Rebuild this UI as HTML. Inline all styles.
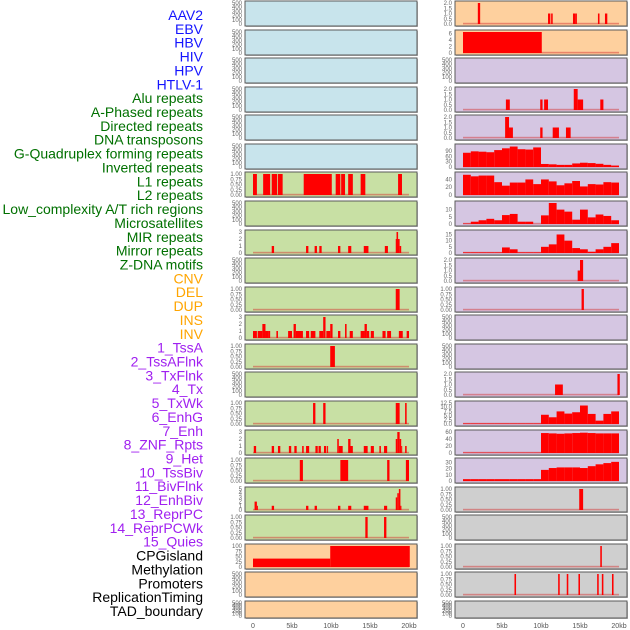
<!DOCTYPE html>
<html><head><meta charset="utf-8">
<style>
html,body{margin:0;padding:0;background:#fff;width:630px;height:630px;overflow:hidden}
svg{display:block;font-family:"Liberation Sans",sans-serif}
</style></head>
<body>
<svg id="chart" width="630" height="630" viewBox="0 0 630 630"></svg>
<script>
// ---- data ----
const trackLabels = ["AAV2","EBV","HBV","HIV","HPV","HTLV-1","Alu repeats","A-Phased repeats","Directed repeats","DNA transposons","G-Quadruplex forming repeats","Inverted repeats","L1 repeats","L2 repeats","Low_complexity A/T rich regions","Microsatellites","MIR repeats","Mirror repeats","Z-DNA motifs","CNV","DEL","DUP","INS","INV","1_TssA","2_TssAFlnk","3_TxFlnk","4_Tx","5_TxWk","6_EnhG","7_Enh","8_ZNF_Rpts","9_Het","10_TssBiv","11_BivFlnk","12_EnhBiv","13_ReprPC","14_ReprPCWk","15_Quies","CPGisland","Methylation","Promoters","ReplicationTiming","TAD_boundary"];
const labelGroups = [6,13,5,15,5];
const groupColors = ["#1414ff","#007000","#ffa500","#a020f0","#000000"];
const xTickLabels = ["0","5kb","10kb","15kb","20kb"];
const xTickValues = [0,5,10,15,20];

// left column segments [startKb, endKb, value]
const L6 = [[0,0.5,1],[1.3,2.2,1],[2.4,3.1,1],[3.2,3.8,1],[6.5,10.1,1],[10.6,11.2,1],[11.3,11.8,1],[12.2,12.8,1],[13.8,14.4,1],[18.6,19.1,1]];
const L8 = [[2.4,2.7,1],[6.8,7.1,1],[7.9,8.2,1],[8.5,8.8,1],[10.9,11.2,1],[12.2,12.6,1],[14.2,14.8,1],[16.9,17.3,1],[18.3,18.8,2],[18.4,18.6,3],[18.8,19,1]];
const L10 = [[18.3,18.8,1]];
const L11 = [[0,0.5,1],[0.6,1.2,1],[1.2,1.6,2],[1.6,2,1],[2,2.2,1],[3,3.2,1],[4.5,5,1],[5.2,5.5,2],[5.5,6.4,1],[6.8,7.2,1],[7.4,8,1],[8.5,9,1],[9,9.3,3],[9.4,9.9,1],[9.9,10.2,2],[10.9,11.2,1],[11.8,12,2],[12.4,12.8,1],[13.8,14.3,1],[14.3,14.6,2],[14.6,14.9,1],[15.1,15.5,1],[16.6,17,1],[17.2,17.7,1],[18.7,19.2,1],[19.7,20,1]];
const L12 = [[9.9,10.5,1]];
const L14 = [[7.7,8,1],[9,9.3,1],[18.3,18.8,1],[19.5,19.7,1]];
const L15 = [[0.1,0.4,1],[2.4,2.7,1],[3.2,3.5,1],[4.6,4.9,1],[5.3,5.6,1],[6.3,6.5,1],[6.8,7.2,1],[8,8.3,1],[8.4,8.7,1],[9.1,9.4,1],[9.5,9.6,1],[10.8,11,2],[11,11.5,1],[12.2,12.5,2],[12.5,12.8,1],[14.2,14.7,1],[15.1,15.5,1],[16.2,16.4,1],[16.8,17.2,1],[18.3,18.5,2],[18.5,18.8,3],[18.8,19,2],[19,19.1,1],[19.5,19.7,1]];
const L16 = [[6,6.4,1],[11.2,12.2,1],[17.2,17.5,1],[19.6,20,1]];
const L17 = [[0.2,0.5,2],[0.5,0.6,1],[2.4,2.7,1],[6.8,7.1,1],[7.9,8.2,1],[10.9,11.2,1],[12.2,12.6,1],[14.2,14.8,1],[16.8,17.2,1],[18.3,18.5,3],[18.5,18.7,4],[18.7,18.9,5],[18.9,19,1]];
const L18 = [[14.4,14.7,1],[16.8,17.1,1]];
const L19 = [[0,9.9,40],[9.9,20.1,100]];

// right column
const R0 = [[1.9,2.2,2],[10.9,11.2,1],[11.3,11.5,1],[14.1,14.4,1],[14.4,14.6,1],[17.3,17.5,1],[18.2,18.5,1]];
const R1 = [[0,10.1,6.5]];
const R3 = [[5.5,6,1],[9.9,10.2,1],[10.4,10.9,1],[14.2,14.7,2],[14.7,15.4,1],[17.6,18,1]];
const R4 = [[5.4,5.9,2],[5.9,6.4,1],[9.9,10.2,1],[11.5,12.3,1],[13.2,13.8,1]];
const R5bins = [80,88,86,83,95,105,115,100,98,110,17,15,12,12,20,24,22,18,12,8];
const R6bins = [52,48,50,50,33,24,32,32,40,28,40,35,25,30,36,22,28,27,33,32];
const R7bins = [0.3,1.6,2.6,3.6,2.6,6.2,7,1.6,1.6,0,6,14.6,10,8.6,3,10,4.6,6.6,5.6,2.6];
const R8bins = [0.5,0.5,0.5,0.5,0.5,4.5,3,0.5,0.5,0.5,5,7,15,10,4,3,1,3,5,8];
const R9 = [[14.7,15,1],[15,15.4,2]];
const R10 = [[15.2,15.5,1]];
const R13 = [[11.8,12.8,1],[19.8,20.1,2]];
const R14bins = [0.3,0.3,0.3,0.3,0.3,0.3,0.3,0.3,0.3,0.3,5.5,4,7.5,6.2,7,11,6,2,6,7.5];
const R15bins = [1,1,1,1,1,1,1,1,1,1,57,56,55,56,57,58,57,56,56,56];
const R16bins = [3,3,3,3,3,3,3,3,3,3,18,21,22,22,22,21,24,27,29,31];
const R17 = [[14.9,15.4,1]];
const R19 = [[17.6,17.8,1]];
const R20 = [[6.6,6.8,1],[12.2,12.4,1],[13.3,13.5,1],[14.8,15,1],[17.2,17.4,1],[17.8,18,1],[19.1,19.3,1]];

// tick sets
const tEmpty = [0,100,200,300,400,500];
const tFrac = [0,0.25,0.5,0.75,1];
const tCnt3 = [0,1,2,3];
const tCnt5 = [0,1,2,3,4,5];
const tHalf2 = [0,0.5,1,1.5,2];

// ---- rendering ----
const svg = document.getElementById('chart');
const NS = 'http://www.w3.org/2000/svg';
function mk(tag, attrs, parent){const e=document.createElementNS(NS,tag);for(const k in attrs)e.setAttribute(k,attrs[k]);(parent||svg).appendChild(e);return e;}
function bins2seg(b){return b.map((v,i)=>[i,i+1,v]);}
function fmt(ticks,v){
  const isFrac = ticks.some(t=>t%1!==0);
  if(!isFrac) return String(v);
  if(ticks.includes(0.25)) return v.toFixed(2);
  if(ticks.includes(2.5)) return String(v % 1 === 0 ? v.toFixed(1) : v);
  return v.toFixed(1);
}
const BLUE='#c8e4ec', GREEN='#c8e0a4', PEACH='#fed09e', PURPLE='#d5c6e2', GRAY='#cfcfcf';
const leftPanels=[], rightPanels=[];
for(let i=0;i<22;i++){
  leftPanels.push({bg: i<6?BLUE:(i<19?GREEN:PEACH), segs:null, ticks:tEmpty, ymax:500});
  rightPanels.push({bg: i<2?PEACH:(i<17?PURPLE:GRAY), segs:null, ticks:tEmpty, ymax:500});
}
function setP(arr,i,segs,ticks,ymax){arr[i].segs=segs;arr[i].ticks=ticks;arr[i].ymax=ymax;}
setP(leftPanels,6,L6,tFrac,1); setP(leftPanels,8,L8,tCnt3,3); setP(leftPanels,10,L10,tFrac,1);
setP(leftPanels,11,L11,tCnt3,3); setP(leftPanels,12,L12,tFrac,1); setP(leftPanels,14,L14,tFrac,1);
setP(leftPanels,15,L15,tCnt3,3); setP(leftPanels,16,L16,tFrac,1); setP(leftPanels,17,L17,tCnt5,5);
setP(leftPanels,18,L18,tFrac,1); setP(leftPanels,19,L19,[0,25,50,75,100],100);
setP(rightPanels,0,R0,tHalf2,2); setP(rightPanels,1,R1,[0,2,4,6],6.5);
setP(rightPanels,3,R3,tHalf2,2); setP(rightPanels,4,R4,tHalf2,2);
setP(rightPanels,5,bins2seg(R5bins),[0,30,60,90],118); setP(rightPanels,6,bins2seg(R6bins),[0,20,40],54);
setP(rightPanels,7,bins2seg(R7bins),[0,5,10],14.6); setP(rightPanels,8,bins2seg(R8bins),[0,5,10,15],17);
setP(rightPanels,9,R9,tHalf2,2); setP(rightPanels,10,R10,tFrac,1);
setP(rightPanels,13,R13,tHalf2,2); setP(rightPanels,14,bins2seg(R14bins),[0,2.5,5,7.5,10,12.5],12.5);
setP(rightPanels,15,bins2seg(R15bins),[0,20,40,60],60); setP(rightPanels,16,bins2seg(R16bins),[0,10,20,30],34);
setP(rightPanels,17,R17,tFrac,1); setP(rightPanels,19,R19,tFrac,1); setP(rightPanels,20,R20,tFrac,1);

function drawPanel(p,i,px,side){
  const top = Math.round(i*28.57)+1;
  const h = i===21?17:25;
  const x0 = px+8, kb=7.8;
  const xs = v=>x0+v*kb;
  const bot = top+h-2, inner=h-4;
  const ys = v=>bot-(v/p.ymax)*inner;
  const g = mk('g',{});
  
  
  mk('rect',{x:px+1,y:top+1,width:172,height:h,fill:'#bbb'},g);
  mk('rect',{x:px,y:top,width:172,height:h,fill:p.bg,stroke:'#5a5a5a','stroke-width':1},g);
  if(p.segs){
    mk('rect',{x:xs(0),y:bot-1.2,width:20*kb,height:1.6,fill:'rgba(210,40,40,0.45)'},g);
    p.segs.forEach(s=>{
      const r=mk('rect',{x:xs(s[0]),y:ys(s[2]),width:Math.max(1,(s[1]-s[0])*kb),height:bot-ys(s[2]),fill:'#ff0000'},g);
      
      
    });
  }
  p.ticks.forEach(t=>{
    const tx=mk('text',{x:px-3,y:ys(t)+2,'font-size':6,fill:'#666','text-anchor':'end'},g);
    tx.textContent=fmt(p.ticks,t);
  });
}
leftPanels.forEach((p,i)=>drawPanel(p,i,245,'left'));
rightPanels.forEach((p,i)=>drawPanel(p,i,455,'right'));

// labels
let gi=0, cnt=0;
trackLabels.forEach((lab,i)=>{
  while(cnt>=labelGroups[gi]){cnt=0;gi++;}
  cnt++;
  const t=mk('text',{x:203,y:15+i*13.86+5,'font-size':14,fill:groupColors[gi],'text-anchor':'end'});
  
  
  t.textContent=lab;
});

// x axes
[245,455].forEach((px,k)=>{
  xTickValues.forEach((v,j)=>{
    const t=mk('text',{x:px+8+v*7.8,y:628,'font-size':7,fill:'#555','text-anchor':'middle'});
    
    
    t.textContent=xTickLabels[j];
  });
});
</script>
</body></html>
